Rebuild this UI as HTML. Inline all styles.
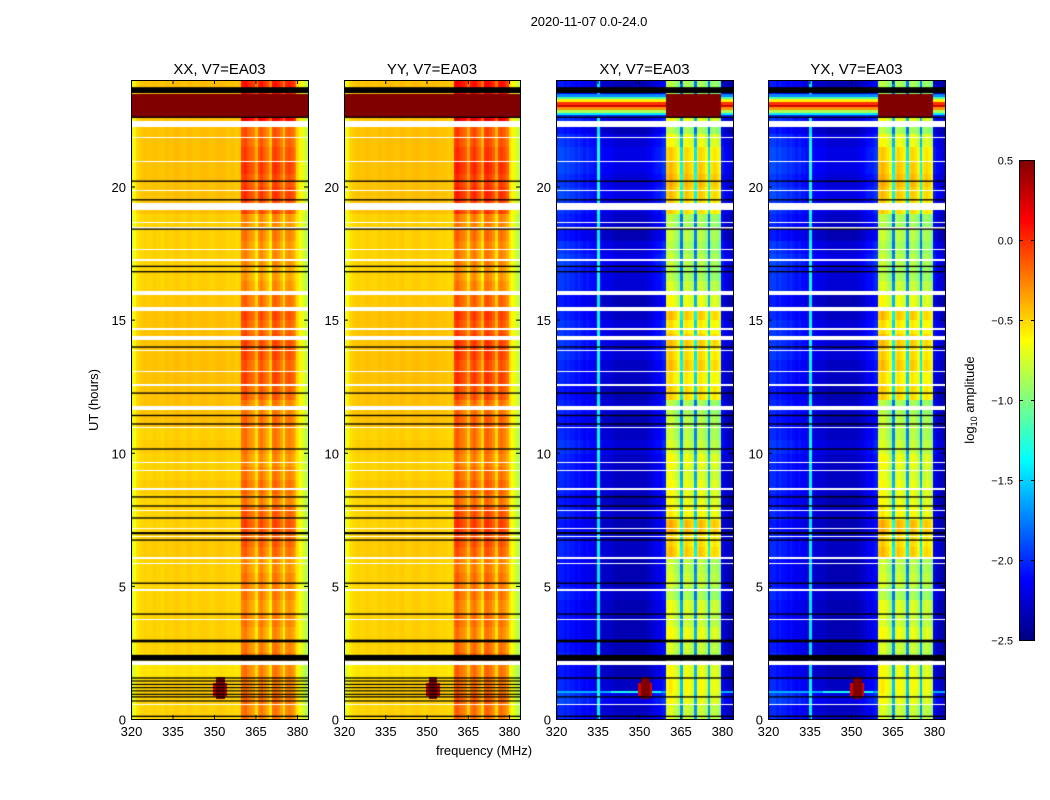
<!DOCTYPE html>
<html><head><meta charset="utf-8">
<style>
html,body{margin:0;padding:0;background:#fff;}
#root{position:relative;width:1050px;height:800px;overflow:hidden;font-family:"Liberation Sans",sans-serif;}
canvas{position:absolute;}
svg{position:absolute;left:0;top:0;}
text{font-family:"Liberation Sans",sans-serif;fill:#000;}
</style></head>
<body>
<div id="root">
<canvas id="c0" width="177" height="639" style="left:131px;top:80px"></canvas>
<canvas id="c1" width="176" height="639" style="left:344px;top:80px"></canvas>
<canvas id="c2" width="177" height="639" style="left:556px;top:80px"></canvas>
<canvas id="c3" width="177" height="639" style="left:768px;top:80px"></canvas>
<canvas id="cb" width="15" height="480" style="left:1019px;top:160px"></canvas>
<svg id="ov" width="1050" height="800">
<text x="589" y="26" font-size="13" text-anchor="middle">2020-11-07 0.0-24.0</text>
<text x="98" y="400" font-size="13" text-anchor="middle" transform="rotate(-90 98 400)">UT (hours)</text>
<text x="484" y="755" font-size="13" text-anchor="middle">frequency (MHz)</text>
<text x="974" y="400" font-size="13" text-anchor="middle" transform="rotate(-90 974 400)">log<tspan font-size="9" dy="3">10</tspan><tspan dy="-3"> amplitude</tspan></text>
</svg>
</div>
<script>
// ---- data ----
const panelTitles = ["XX, V7=EA03","YY, V7=EA03","XY, V7=EA03","YX, V7=EA03"];
const xTicks = [320,335,350,365,380];
const yTicks = [0,5,10,15,20];
const cbTicks = [0.5,0.0,-0.5,-1.0,-1.5,-2.0,-2.5];
const cbTickLabels = ["0.5","0.0","\u22120.5","\u22121.0","\u22121.5","\u22122.0","\u22122.5"];
// per-channel (1 MHz, 320-384) log amplitude profiles
const parProfile = [-0.75,-0.6,-0.5,-0.47,-0.45,-0.44,-0.46,-0.45,-0.43,-0.44,-0.45,-0.46,-0.44,-0.43,-0.45,-0.44,-0.42,-0.43,-0.44,-0.45,-0.43,-0.42,-0.44,-0.45,-0.44,-0.43,-0.42,-0.43,-0.44,-0.45,-0.44,-0.43,-0.42,-0.43,-0.44,-0.45,-0.44,-0.45,-0.47,-0.45,
 -0.12,-0.08,-0.15,-0.2,-0.25,-0.42,-0.18,-0.12,-0.2,-0.28,-0.45,-0.12,-0.1,-0.16,-0.25,-0.45,-0.18,-0.15,-0.2,-0.3,-0.5,-0.6,-0.7,-0.8];
const crossProfile = [-2.1,-2.05,-2.05,-2.1,-2.05,-2.1,-2.1,-2.15,-2.1,-2.15,-2.2,-2.15,-2.2,-2.2,-2.25,-1.45,-2.25,-2.3,-2.3,-2.3,-2.3,-2.35,-2.35,-2.35,-2.35,-2.35,-2.35,-2.35,-2.35,-2.35,-2.35,-2.35,-2.35,-2.3,-2.3,-2.25,-2.2,-2.2,-2.15,-2.1,
 -0.95,-0.9,-0.95,-1.0,-1.1,-1.9,-1.0,-0.95,-1.0,-1.05,-1.9,-1.0,-0.95,-1.0,-1.1,-1.9,-1.05,-1.0,-1.05,-1.15,-2.2,-2.3,-2.35,-2.35];
// per half-hour gains (index 0 = 0.0-0.5 h)
const parBandGain = [-0.1,-0.05,-0.1,-0.1,-0.05,-0.1,-0.15,-0.1,-0.15,-0.1,-0.1,-0.15,-0.05,0.0,0.05,0.0,-0.1,-0.05,-0.1,-0.15,-0.1,-0.1,-0.05,-0.1,0.0,0.05,0.0,0.05,0.05,0.0,0.05,-0.05,-0.15,-0.2,-0.15,-0.15,-0.1,-0.15,0.05,0.1,0.05,0.1,0.05,0.0,0.0,0.3,0.5,0.2];
const parBgGain = [-0.05,-0.05,-0.05,-0.1,-0.08,-0.05,-0.05,-0.05,-0.05,-0.05,-0.05,-0.05,-0.03,-0.03,-0.05,-0.05,-0.05,-0.03,-0.05,-0.05,-0.03,-0.05,0.0,0.0,0.0,0.0,0.0,0.0,0.0,0.0,0.0,-0.02,-0.05,-0.05,-0.05,-0.05,-0.05,-0.05,0.0,0.0,0.0,0.0,0.0,0.0,0.0,0.0,0.0,0.0];
const crossBandGain = [0.2,0.3,0.35,0.3,0.15,0.2,0.3,0.2,0.25,0.1,0.2,0.15,0.5,0.45,0.55,0.35,0.3,0.3,0.25,0.3,0.2,0.15,0.15,0.1,0.45,0.4,0.5,0.45,0.5,0.4,0.5,0.3,0.2,0.1,0.15,0.1,0.15,0.1,0.45,0.5,0.55,0.5,0.45,0.3,0.1,0.3,0.5,0.1];
const crossBgGain = [0.05,0.15,0.05,0.0,0.05,0.0,0.0,0.0,0.0,0.05,0.0,0.0,0.05,0.05,0.0,0.05,0.0,0.05,0.05,0.05,0.1,0.05,0.0,0.05,0.0,0.05,0.05,0.1,0.1,0.1,0.05,0.0,0.1,0.1,0.15,0.1,0.0,0.05,0.1,0.15,0.1,0.15,0.15,0.1,0.0,0.1,0.1,0.0];
const yyBandOffset = 0.05;
// flagged (white) intervals, hours
const whiteStart = [0.48,2.02,3.66,4.06,4.8,5.78,6.04,6.8,7.1,7.56,7.82,8.07,8.6,8.97,9.34,9.62,10.9,11.65,11.73,11.87,12.55,13.0,13.17,13.27,13.83,14.09,14.2,14.32,14.65,14.77,15.33,15.4,15.93,17.21,17.62,17.77,18.07,18.45,18.63,18.77,19.13,19.83,20.92,21.57,21.83,21.97,22.2];
const whiteEnd   = [0.6,2.16,3.8,4.12,4.87,5.9,6.1,6.86,7.16,7.62,7.92,8.13,8.66,9.03,9.44,9.68,11.0,11.7,11.78,11.93,12.61,13.06,13.23,13.33,13.89,14.15,14.26,14.38,14.71,14.83,15.39,15.46,16.1,17.27,17.68,17.83,18.13,18.51,18.69,18.83,19.37,19.89,20.98,21.63,21.89,22.03,22.52];
// black rows (hours) and their thickness (hours)
const blackRows = [0.1,0.83,1.54,2.3,2.93,3.94,5.1,6.72,6.98,7.55,8.0,8.34,10.14,11.08,11.4,12.24,13.97,16.8,17.0,18.4,19.5,20.2,22.6,23.62];
const blackThick = [0.05,0.05,0.05,0.22,0.1,0.05,0.05,0.05,0.08,0.05,0.05,0.05,0.05,0.05,0.05,0.05,0.05,0.05,0.05,0.05,0.05,0.05,0.05,0.22];
const parExtraBlack = [0.95,1.08,1.2,1.32,1.45,0.7];
// RFI features
const topStripeStart = 22.65, topStripeEnd = 23.5, topStripeValue = 0.5, crossStripeValue = 0.4;
const spikeFreq = 352.5, spikeStart = 0.8, spikeEnd = 1.6, spikeValue = 0.5;
const crossStreakStart = 0.95, crossStreakEnd = 1.25, crossStreakValue = -1.6;

// ---- helpers ----
function jet(v){
  let t=(v+2.5)/3; t=Math.max(0,Math.min(1,t));
  const cl=x=>Math.max(0,Math.min(1,x));
  let r=cl(1.5-Math.abs(4*t-3)), g=cl(1.5-Math.abs(4*t-2)), b=cl(1.5-Math.abs(4*t-1));
  return `rgb(${Math.round(r*255)},${Math.round(g*255)},${Math.round(b*255)})`;
}
const F0=320,F1=384,H1=24;
function isWhite(h){for(let i=0;i<whiteStart.length;i++){if(h>=whiteStart[i]&&h<whiteEnd[i])return true;}return false;}
function isBand(c){const f=F0+c;return f>=360&&f<380;}

function drawPanel(idx){
  const cv=document.getElementById('c'+idx), ctx=cv.getContext('2d');
  const W=cv.width,H=cv.height;
  const xS=f=>(f-F0)/(F1-F0)*W, yS=h=>(H1-h)/H1*H;
  const cross = idx>=2;
  const prof = cross?crossProfile:parProfile;
  const bandG = cross?crossBandGain:parBandGain;
  const bgG = cross?crossBgGain:parBgGain;
  const dh=0.1;
  ctx.fillStyle='#fff';ctx.fillRect(0,0,W,H);
  for(let r=0;r<240;r++){
    const h=r*dh+dh/2;
    if(isWhite(h))continue;
    const hi=Math.min(47,Math.floor(h*2));
    for(let c=0;c<prof.length;c++){
      const f=F0+c, fc=f+0.5;
      let v=prof[c]+(isBand(c)?bandG[hi]+(idx==1?yyBandOffset:0):bgG[hi]);
      if(h>=topStripeStart&&h<topStripeEnd){
        if(!cross) v=topStripeValue;
        else { const mid=(topStripeStart+topStripeEnd)/2, d=Math.abs(h-mid)/((topStripeEnd-topStripeStart)/2);
          v=isBand(c)?topStripeValue:crossStripeValue-d*2.4; }
      }
      if(cross&&h>=crossStreakStart&&h<crossStreakEnd&&!isBand(c)&&r%2==0) v=Math.max(v,crossStreakValue+(fc>340&&fc<358?0.3:0));
      if(h>=spikeStart&&h<spikeEnd){const d=Math.abs(fc-spikeFreq); if(d<1.2) v=spikeValue; else if(d<2.5&&h>0.9&&h<1.4) v=Math.max(v,0.25);}
      ctx.fillStyle=jet(v);
      const x0=xS(f),x1=xS(f+1),y0=yS(h+dh/2),y1=yS(h-dh/2);
      ctx.fillRect(Math.floor(x0),Math.floor(y0),Math.ceil(x1-x0)+1,Math.ceil(y1-y0)+1);
    }
  }
  ctx.fillStyle='#000';
  blackRows.forEach((b,i)=>{const y=yS(b+blackThick[i]/2);ctx.fillRect(0,y,W,Math.max(1.2,blackThick[i]/H1*H));});
  if(!cross) parExtraBlack.forEach(b=>{ctx.fillRect(0,yS(b),W,1.2);});
}
[0,1,2,3].forEach(drawPanel);

// colorbar
(function(){
  const cv=document.getElementById('cb'),ctx=cv.getContext('2d');
  for(let y=0;y<cv.height;y++){const v=0.5-(y+0.5)/cv.height*3;ctx.fillStyle=jet(v);ctx.fillRect(0,y,cv.width,1);}
})();

// axes overlay
const NS='http://www.w3.org/2000/svg';
const ov=document.getElementById('ov');
function mk(tag,attrs){const e=document.createElementNS(NS,tag);for(const k in attrs)e.setAttribute(k,attrs[k]);ov.appendChild(e);return e;}
const panels=[[131,177],[344,176],[556,177],[768,177]];
const PY=80,PH=639;
panels.forEach((p,i)=>{
  const [x0,w]=p;
  const xS=f=>x0+(f-F0)/(F1-F0)*w, yS=h=>PY+(H1-h)/H1*PH;
  const fr=mk('rect',{x:x0+0.5,y:PY+0.5,width:w,height:PH,fill:'none',stroke:'#000','stroke-width':1});
  
  
  const t=mk('text',{x:x0+w/2,y:74,'font-size':15,'text-anchor':'middle'});t.textContent=panelTitles[i];
  
  
  xTicks.forEach(f=>{
    const x=xS(f)+0.5;
    mk('line',{x1:x,x2:x,y1:PY+PH,y2:PY+PH-4,stroke:'#000'});
    mk('line',{x1:x,x2:x,y1:PY,y2:PY+4,stroke:'#000'});
    const l=mk('text',{x:x,y:PY+PH+17,'font-size':13,'text-anchor':'middle'});l.textContent=f;
    
    
  });
  yTicks.forEach(h=>{
    const y=yS(h)+0.5;
    mk('line',{x1:x0,x2:x0+4,y1:y,y2:y,stroke:'#000'});
    mk('line',{x1:x0+w,x2:x0+w-4,y1:y,y2:y,stroke:'#000'});
    const l=mk('text',{x:x0-5,y:y+5,'font-size':13,'text-anchor':'end'});l.textContent=h;
    
    
  });
});
// colorbar frame & ticks
const cbf=mk('rect',{x:1019.5,y:160.5,width:15,height:480,fill:'none',stroke:'#000'});


cbTicks.forEach((v,i)=>{
  const y=160+(0.5-v)/3*480+0.5;
  mk('line',{x1:1019,x2:1023,y1:y,y2:y,stroke:'#000'});
  mk('line',{x1:1035,x2:1031,y1:y,y2:y,stroke:'#000'});
  const l=mk('text',{x:1013,y:y+4,'font-size':11,'text-anchor':'end'});l.textContent=cbTickLabels[i];
  
  
});
</script>
</body></html>
